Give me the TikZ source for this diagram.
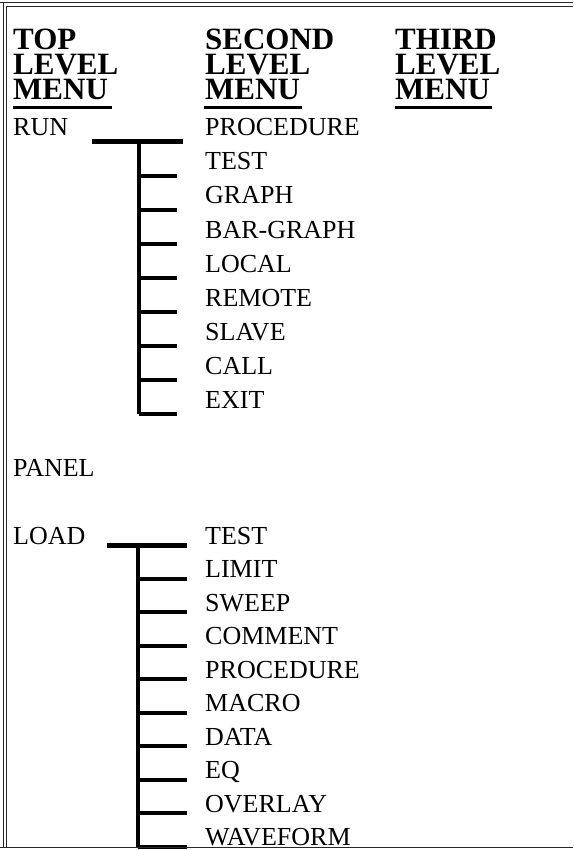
\documentclass[tikz,border=0pt]{standalone}
\usepackage{fontspec}
\setmainfont{Liberation Serif}
\usetikzlibrary{positioning}
\tikzset{
    item/.style={anchor=base west, inner sep=0pt, font=\fontsize{26}{26}\selectfont},
    head/.style={anchor=base west, inner sep=0pt, align=left, font=\fontsize{31}{25}\selectfont\bfseries},
    bar/.style={line width=4pt},
    frame/.style={line width=1pt, black!85},
}

\begin{document}
\begin{tikzpicture}[x=1pt, y=-1pt]
    \useasboundingbox(0, 0)rectangle(573, 850);
    \draw[frame](0, 3)--(573, 3);
    \draw[frame](6.5, 6.5)--(573, 6.5);
    \draw[frame](3, 3)--(3, 847);
    \draw[frame](6.5, 6.5)--(6.5, 847);
    % headings
    \node[head](top)at(13, 100){TOP\\LEVEL\\MENU};
    \node[head](second)at(205, 100){SECOND\\LEVEL\\MENU};
    \node[head](third)at(395, 100){THIRD\\LEVEL\\MENU};
    \draw[line width=3pt](13, 108)--(112, 108);
    \draw[line width=3pt](204, 108)--(302, 108);
    \draw[line width=3pt](395, 108)--(492, 108);
    % top level
    \node[item](run)at(13, 136){RUN};
    \node[item](panel)at(13, 476){PANEL};
    \node[item](load)at(13, 544){LOAD};
    % run branch
    \foreach \t [count=\i] in {PROCEDURE, TEST, GRAPH, BAR-GRAPH, LOCAL, REMOTE, SLAVE, CALL, EXIT}
        \node[item](r\i)at(205, {136+34*(\i-1)}){\t};
    \draw[bar, line width=5pt]([shift={(79, 6)}]run.base west)--++(91, 0);
    \draw[bar](139, 142)--([shift={(-66, 6)}]r9.base west);
    \foreach \i in {2, ..., 9}
        \draw[bar]([shift={(-66, 6)}]r\i.base west)--++(38, 0);
    % load branch
    \foreach \t [count=\i] in {TEST, LIMIT, SWEEP, COMMENT, PROCEDURE, MACRO, DATA, EQ, OVERLAY, WAVEFORM}
        \node[item](l\i)at(205, {544+33.5*(\i-1)}){\t};
    \draw[bar, line width=5pt]([shift={(94, 1)}]load.base west)--++(80, 0);
    \draw[bar](138, 545)--([shift={(-67, 1)}]l10.base west);
    \foreach \i in {2, ..., 10}
        \draw[bar]([shift={(-67, 1)}]l\i.base west)--++(49, 0);
    \draw[frame](0, 847)--(573, 847);
\end{tikzpicture}
\end{document}
